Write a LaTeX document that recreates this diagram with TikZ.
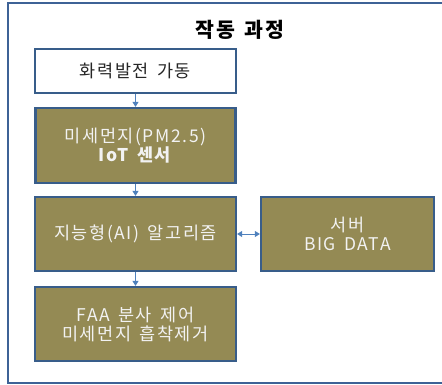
\documentclass[tikz,border=0pt]{standalone}
\usepackage{fontspec}
\setmainfont{Noto Sans CJK KR}[LetterSpace=9,WordSpace=1.5]
\usetikzlibrary{arrows.meta}
\definecolor{boxfill}{HTML}{948A54}
\definecolor{boxline}{HTML}{385D8A}
\definecolor{frameline}{HTML}{3E6296}
\definecolor{arrowc}{HTML}{4F81BD}
\definecolor{boxtext}{HTML}{F2F2F2}
\definecolor{darktext}{HTML}{262626}
\begin{document}
\begin{tikzpicture}[x=1pt,y=-1pt,
  base/.style={draw=boxline,line width=2.2pt,align=center,inner sep=0pt,
    font=\fontsize{17.5}{19}\selectfont},
  olivebox/.style={base,fill=boxfill,text=boxtext},
  whitebox/.style={base,fill=white,text=darktext},
  conn/.style={draw=arrowc,line width=0.9pt,-{Triangle[length=5pt,width=6pt]}},
  bconn/.style={draw=arrowc,line width=0.9pt,{Triangle[length=5pt,width=6pt]}-{Triangle[length=5pt,width=6pt]}}]
\useasboundingbox (0,0) rectangle (442,385);
\draw[frameline,line width=2pt] (8,3) rectangle (452,383);
\node[font=\fontsize{20.5}{22}\selectfont\bfseries,text=black] (title) at (240,30) {작동 과정};
\node[whitebox,minimum width=201pt,minimum height=44pt] (b1) at (135.5,71) {화력발전 가동};
\node[olivebox,minimum width=200pt,minimum height=75pt] (b2) at (135.5,145.5) {미세먼지(PM2.5)\\\textbf{IoT 센서}};
\node[olivebox,minimum width=201pt,minimum height=74pt] (b3) at (135.5,234) {지능형(AI) 알고리즘};
\node[olivebox,minimum width=173pt,minimum height=74pt] (b4) at (347.5,234) {서버\\BIG DATA};
\node[olivebox,minimum width=201pt,minimum height=74pt] (b5) at (135.5,324) {FAA 분사 제어\\미세먼지 흡착제거};
\draw[conn] (b1.south) -- (b2.north);
\draw[conn] (b2.south) -- (b3.north);
\draw[conn] (b3.south) -- (b5.north);
\draw[bconn] (b3.east) -- (b4.west);
\end{tikzpicture}
\end{document}
